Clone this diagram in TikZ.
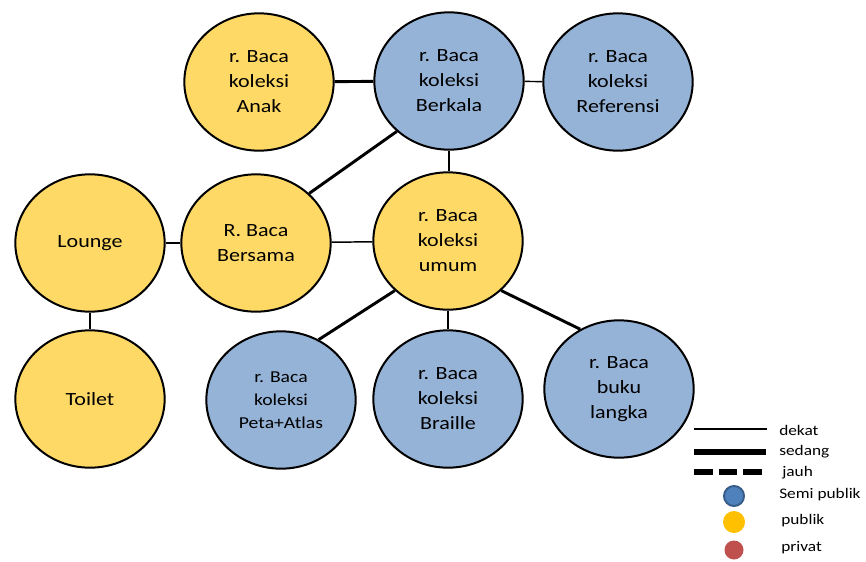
\documentclass[tikz,border=0pt]{standalone}
\usepackage{fontspec}
\setmainfont{Carlito}[FakeStretch=1.18]
\usetikzlibrary{shapes.geometric}
\definecolor{Kuning}{HTML}{FFD966}
\definecolor{Biru}{HTML}{95B3D7}
\definecolor{SemiBiru}{HTML}{4F81BD}
\definecolor{SemiTepi}{HTML}{385D8A}
\definecolor{Emas}{HTML}{FFC000}
\definecolor{Merah}{HTML}{C0504D}
\tikzset{
    ruang/.style={ellipse,draw=black,line width=1.5pt,minimum width=112pt,
        minimum height=103pt,inner sep=0pt,align=center,
        font=\fontsize{14}{18.75}\selectfont},
    publik/.style={ruang,fill=Kuning},
    semi/.style={ruang,fill=Biru},
    dekat/.style={line width=1.1pt},
    sedang/.style={line width=2.2pt},
    ket/.style={anchor=west,inner sep=0pt,font=\fontsize{11}{13}\selectfont}
}

\begin{document}
\begin{tikzpicture}[x=0.75pt,y=-0.75pt]
    \useasboundingbox (0,0) rectangle (866,561);
    \node[publik] (anak) at (259,82) {r. Baca\\koleksi\\Anak};
    \node[semi] (berkala) at (449,81) {r. Baca\\koleksi\\Berkala};
    \node[semi] (referensi) at (618,82) {r. Baca\\koleksi\\Referensi};
    \node[publik] (lounge) at (90,243) {Lounge};
    \node[publik] (bersama) at (256,243) {R. Baca\\Bersama};
    \node[publik] (umum) at (448,241) {r. Baca\\koleksi\\umum};
    \node[publik] (toilet) at (90,399) {Toilet};
    \node[semi,font=\fontsize{12.5}{17.25}\selectfont] (peta) at (281,400) {r. Baca\\koleksi\\Peta+Atlas};
    \node[semi] (braille) at (448,399) {r. Baca\\koleksi\\Braille};
    \node[semi] (langka) at (619,389) {r. Baca\\buku\\langka};
    \draw[sedang] (anak) -- (berkala);
    \draw[dekat] (berkala) -- (referensi);
    \draw[sedang] (berkala.224) -- (bersama.43);
    \draw[dekat,line width=1.4pt] (berkala.south) -- (berkala.south |- umum.north);
    \draw[dekat] (lounge) -- (bersama);
    \draw[dekat] (bersama) -- (umum);
    \draw[dekat] (lounge) -- (toilet);
    \draw[sedang] (umum.223) -- (peta.58);
    \draw[sedang] (umum.south) -- (braille.north);
    \draw[sedang] (umum.317) -- (langka.123);
    \draw[line width=1.1pt] (694,429) -- (767,429);
    \draw[line width=4.5pt] (694,452) -- (766,452);
    \draw[line width=4.5pt,dash pattern=on 13.9pt off 4.5pt] (694,472) -- (762,472);
    \fill[SemiBiru,draw=SemiTepi,line width=1.5pt] (734,496) circle (10);
    \fill[Emas] (734,522) circle (11);
    \fill[Merah] (734,550) circle (9.5);
    \node[ket] (kdekat) at (779,430) {dekat};
    \node[ket] (ksedang) at (779,452) {sedang};
    \node[ket] (kjauh) at (782,473) {jauh};
    \node[ket] (ksemi) at (779,495) {Semi publik};
    \node[ket] (kpublik) at (781,521) {publik};
    \node[ket] (kprivat) at (781,548) {privat};
\end{tikzpicture}
\end{document}
